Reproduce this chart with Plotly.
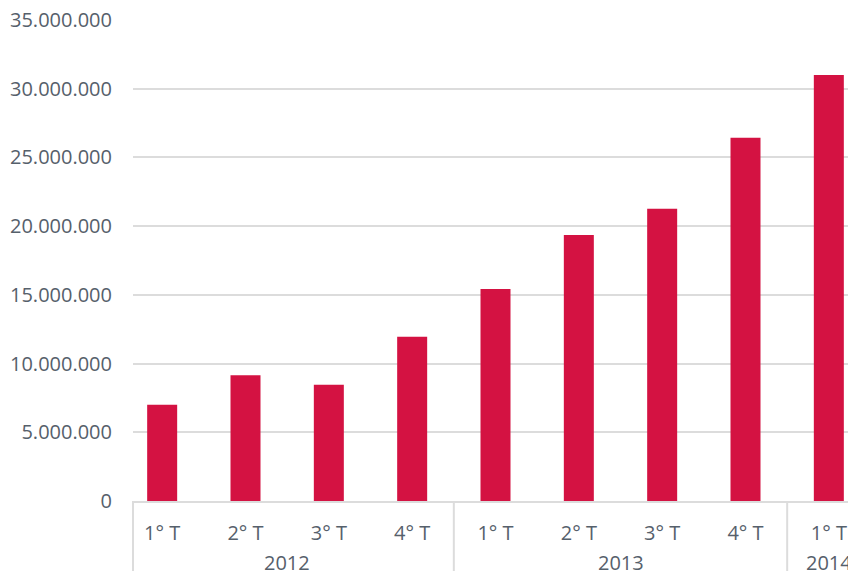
import plotly.graph_objects as go

years = ["2012", "2012", "2012", "2012", "2013", "2013", "2013", "2013", "2014"]
quarters = ["1° T", "2° T", "3° T", "4° T", "1° T", "2° T", "3° T", "4° T", "1° T"]
values = [7000000, 9150000, 8450000, 11950000, 15430000, 19360000, 21260000, 26430000, 31000000]
y_ticks = [0, 5000000, 10000000, 15000000, 20000000, 25000000, 30000000, 35000000]

x_keys = [f"{y} {q}" for y, q in zip(years, quarters)]

fig = go.Figure(go.Bar(
    x=x_keys,
    y=values,
    marker=dict(color="#D41242", line=dict(width=0)),
    width=0.36,
))

font_color = "#56606b"
grid_color = "#dcdcdc"
fig.update_layout(
    width=848, height=571,
    margin=dict(l=133, r=0, t=20, b=70),
    plot_bgcolor="white", paper_bgcolor="white",
    separators=",.",
    showlegend=False,
    font=dict(family="Open Sans", size=20, color=font_color),
)
fig.update_yaxes(
    range=[0, 35000000],
    tickvals=y_ticks,
    tickformat=",d",
    showgrid=True, gridcolor=grid_color, gridwidth=2,
    zeroline=False,
    ticks="outside", ticklen=16, tickcolor="rgba(0,0,0,0)",
    showline=False,
    tickfont=dict(size=20, color=font_color),
)
fig.update_xaxes(
    type="category",
    range=[-0.35, 8.23],
    tickvals=x_keys, ticktext=quarters,
    showline=True, linecolor=grid_color, linewidth=2,
    ticklabelstandoff=13,
    tickfont=dict(size=20, color=font_color),
    showgrid=False,
)

# year group labels and dividers
groups = []
for i, y in enumerate(years):
    if not groups or groups[-1][0] != y:
        groups.append([y, i, i])
    else:
        groups[-1][2] = i
for y, start, end in groups:
    fig.add_annotation(x=(start + end) / 2, y=-0.127, xref="x", yref="paper",
                       text=y, showarrow=False, yanchor="middle",
                       font=dict(size=20, color=font_color))
for y, start, end in groups:
    fig.add_shape(type="line", xref="x", yref="paper", x0=start - 0.5, x1=start - 0.5,
                  y0=0, y1=-0.16, line=dict(color=grid_color, width=2))
fig.add_shape(type="line", xref="paper", yref="paper", x0=0, x1=0, y0=0, y1=-0.16,
              line=dict(color=grid_color, width=2))
fig.write_html("out.html")
